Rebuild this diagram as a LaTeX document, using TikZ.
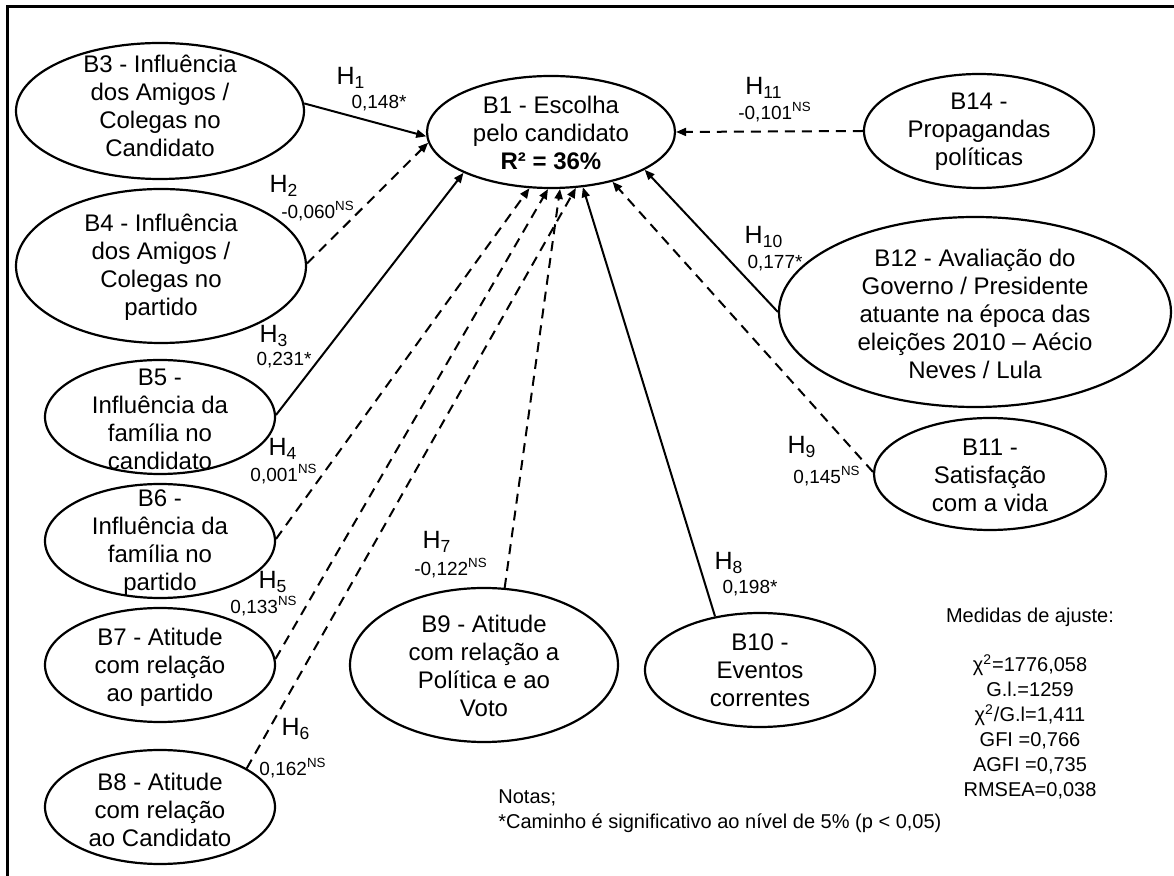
\documentclass[tikz,border=0pt]{standalone}
\usepackage{fontspec}
\setmainfont{Liberation Sans}
\usetikzlibrary{shapes.geometric,arrows.meta}
\tikzset{
  latent/.style={draw, ellipse, line width=1.1pt, inner sep=0pt},
  txt/.style={align=center, inner sep=0pt, font=\fontsize{12}{14}\selectfont},
  hlab/.style={inner sep=0pt, font=\fontsize{12.5}{14}\selectfont},
  vlab/.style={inner sep=0pt, font=\fontsize{9.5}{11}\selectfont},
  notetxt/.style={inner sep=0pt, font=\fontsize{10}{12.5}\selectfont},
  sig/.style={line width=1pt, -{Triangle[length=5pt,width=4pt]}},
  nsig/.style={sig, dash pattern=on 5pt off 3.5pt},
}
\begin{document}
\begin{tikzpicture}[x=0.5pt,y=-0.5pt]
\useasboundingbox (0,0) rectangle (1174,876);
% frame
\draw[line width=1.5pt] (7,876) -- (7,7) -- (1174,7);

% ellipses
\node[latent, minimum width=124pt, minimum height=56pt] (b1) at (551,132) {};
\node[latent, minimum width=144pt, minimum height=68pt] (b3) at (160,111) {};
\node[latent, minimum width=145pt, minimum height=77pt] (b4) at (161,266) {};
\node[latent, minimum width=115pt, minimum height=57pt] (b5) at (160,417) {};
\node[latent, minimum width=115pt, minimum height=57pt] (b6) at (160,541) {};
\node[latent, minimum width=115pt, minimum height=57pt] (b7) at (160,665) {};
\node[latent, minimum width=115pt, minimum height=57pt] (b8) at (160,807) {};
\node[latent, minimum width=134pt, minimum height=77pt] (b9) at (484,665) {};
\node[latent, minimum width=115pt, minimum height=57pt] (b10) at (760,670) {};
\node[latent, minimum width=116pt, minimum height=56pt] (b11) at (990,474) {};
\node[latent, minimum width=196pt, minimum height=95pt] (b12) at (975,312) {};
\node[latent, minimum width=115pt, minimum height=57pt] (b14) at (979,131) {};

% ellipse texts
\node[txt] (b1t) at (551,133) {B1 - Escolha\\pelo candidato\\\textbf{R² = 36\%}};
\node[txt] (b3t) at (160,106) {B3 - Influência\\dos Amigos /\\Colegas no\\Candidato};
\node[txt] (b4t) at (161,267) {B4 - Influência\\dos Amigos /\\Colegas no\\partido};
\node[txt] (b5t) at (160,419) {B5 -\\Influência da\\família no\\candidato};
\node[txt] (b6t) at (160,543) {B6 -\\Influência da\\família no\\partido};
\node[txt] (b7t) at (160,667) {B7 - Atitude\\com relação\\ao partido};
\node[txt] (b8t) at (160,810) {B8 - Atitude\\com relação\\ao Candidato};
\node[txt] (b9t) at (484,666) {B9 - Atitude\\com relação a\\Política e ao\\Voto};
\node[txt] (b10t) at (760,670) {B10 -\\Eventos\\correntes};
\node[txt] (b11t) at (990,475) {B11 -\\Satisfação\\com a vida};
\node[txt] (b12t) at (975,314) {B12 - Avaliação do\\Governo / Presidente\\atuante na época das\\eleições 2010 – Aécio\\Neves / Lula};
\node[txt] (b14t) at (979,132) {B14 -\\Propagandas\\políticas};

% connectors
\draw[sig]  (b3.3)    -- (b1.182);
\draw[nsig] (b4.1)    -- (b1.185);
\draw[sig]  (b5.1)    -- (b1.205);
\draw[nsig] (b6.1)    -- (b1.249);
\draw[nsig] (b7.3)    -- (b1.267);
\draw[nsig] (b8.24)   -- (b1.294);
\draw[nsig] (b9.75)   -- (b1.279);
\draw[sig]  (b10.130) -- (b1.300);
\draw[nsig] (b11.179) -- (b1.321);
\draw[sig]  (b12.180) -- (b1.338);
\draw[nsig] (b14.180) -- (b1.0);

% path labels
\node[hlab] (h1) at (351,78) {H\textsubscript{1}};
\node[vlab] (v1) at (379,103) {0,148*};
\node[hlab] (h2) at (284,186) {H\textsubscript{2}};
\node[vlab] (v2) at (318,211) {-0,060\textsuperscript{NS}};
\node[hlab] (h3) at (274,336) {H\textsubscript{3}};
\node[vlab] (v3) at (284,360) {0,231*};
\node[hlab] (h4) at (283,449) {H\textsubscript{4}};
\node[vlab] (v4) at (284,474) {0,001\textsuperscript{NS}};
\node[hlab] (h5) at (273,582) {H\textsubscript{5}};
\node[vlab] (v5) at (264,606) {0,133\textsuperscript{NS}};
\node[hlab] (h6) at (296,729) {H\textsubscript{6}};
\node[vlab] (v6) at (293,768) {0,162\textsuperscript{NS}};
\node[hlab] (h7) at (437,542) {H\textsubscript{7}};
\node[vlab] (v7) at (451,568) {-0,122\textsuperscript{NS}};
\node[hlab] (h8) at (729,563) {H\textsubscript{8}};
\node[vlab] (v8) at (750,588) {0,198*};
\node[hlab] (h9) at (802,447) {H\textsubscript{9}};
\node[vlab] (v9) at (827,476) {0,145\textsuperscript{NS}};
\node[hlab] (h10) at (764,237) {H\textsubscript{10}};
\node[vlab] (v10) at (775,263) {0,177*};
\node[hlab] (h11) at (764,88) {H\textsubscript{11}};
\node[vlab] (v11) at (775,112) {-0,101\textsuperscript{NS}};

% fit measures
\node[notetxt, align=center] (fitm) at (1030,704) {Medidas de ajuste:\\[12pt]χ\textsuperscript{2}=1776,058\\G.l.=1259\\χ\textsuperscript{2}/G.l=1,411\\GFI =0,766\\AGFI =0,735\\RMSEA=0,038};

% notes
\node[notetxt, align=left, anchor=west] (notas) at (498,811) {Notas;\\*Caminho é significativo ao nível de 5\% (p < 0,05)};
\end{tikzpicture}
\end{document}
